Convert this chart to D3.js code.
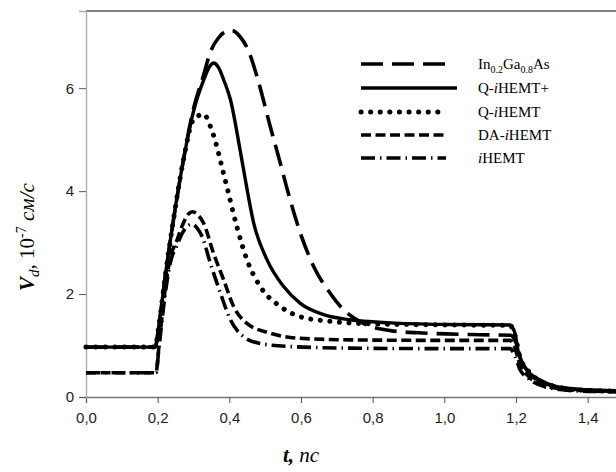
<!DOCTYPE html>
<html><head><meta charset="utf-8">
<script src="https://cdn.jsdelivr.net/npm/d3@7"></script>
<style>body{margin:0;background:#fff}svg{display:block}</style>
</head><body>
<script>
// ---- data ----
const seriesNames = ["In0.2Ga0.8As", "Q-iHEMT+", "Q-iHEMT", "DA-iHEMT", "iHEMT"];
const tInGaAs = [0,0.193,0.203,0.221,0.244,0.272,0.300,0.328,0.347,0.37,0.39,0.407,0.43,0.455,0.477,0.514,0.54,0.565,0.589,0.635,0.681,0.714,0.774,0.85,0.95,1.1,1.185,1.2,1.215,1.24,1.28,1.33,1.4,1.5];
const vInGaAs = [0.97,0.97,1.37,2.34,3.44,4.61,5.6,6.25,6.7,6.98,7.1,7.12,7.0,6.7,6.23,5.26,4.6,3.95,3.38,2.54,2.02,1.73,1.43,1.29,1.24,1.21,1.2,1.05,0.7,0.45,0.27,0.18,0.13,0.11];
const tQplus = [0,0.193,0.203,0.221,0.244,0.272,0.300,0.328,0.345,0.356,0.37,0.385,0.403,0.43,0.444,0.468,0.505,0.551,0.598,0.663,0.737,0.85,1.0,1.183,1.197,1.207,1.23,1.267,1.314,1.397,1.5];
const vQplus = [0.97,0.97,1.37,2.34,3.44,4.61,5.55,6.15,6.42,6.49,6.4,6.15,5.78,4.8,4.25,3.38,2.67,2.15,1.82,1.6,1.5,1.44,1.41,1.4,1.24,0.85,0.53,0.33,0.2,0.14,0.12];
const tQ = [0,0.193,0.203,0.221,0.244,0.272,0.300,0.315,0.328,0.347,0.365,0.379,0.393,0.421,0.449,0.486,0.542,0.598,0.681,0.8,1.0,1.183,1.197,1.21,1.235,1.27,1.32,1.4,1.5];
const vQ = [0.97,0.97,1.37,2.34,3.44,4.61,5.4,5.47,5.5,5.26,4.87,4.48,4.09,3.31,2.67,2.15,1.76,1.56,1.47,1.42,1.4,1.39,1.2,0.8,0.5,0.3,0.19,0.13,0.11];
const tDA = [0,0.195,0.205,0.221,0.235,0.254,0.27,0.285,0.298,0.31,0.328,0.356,0.384,0.412,0.449,0.514,0.598,0.737,1.0,1.183,1.197,1.21,1.235,1.27,1.32,1.4,1.5];
const vDA = [0.47,0.47,1.1,2.1,2.7,3.05,3.35,3.55,3.6,3.55,3.38,2.79,2.28,1.76,1.43,1.24,1.14,1.11,1.1,1.1,0.95,0.65,0.4,0.25,0.16,0.12,0.1];
const tI = [0,0.195,0.205,0.221,0.235,0.254,0.27,0.285,0.296,0.31,0.324,0.347,0.375,0.403,0.44,0.486,0.57,0.737,1.0,1.183,1.197,1.21,1.24,1.28,1.33,1.4,1.5];
const vI = [0.47,0.47,1.05,2.0,2.6,2.95,3.2,3.33,3.36,3.28,3.12,2.6,2.02,1.5,1.17,1.04,0.98,0.95,0.94,0.94,0.8,0.55,0.33,0.2,0.14,0.11,0.1];
const xTicks = [0,0.2,0.4,0.6,0.8,1.0,1.2,1.4];
const yTicks = [0,2,4,6];

const W = 616, H = 472;
const svg = d3.select("body").append("svg").attr("width", W).attr("height", H);
const x = d3.scaleLinear().domain([0, 1.5]).range([86, 623.5]);
const y = d3.scaleLinear().domain([0, 7.5]).range([397, 11]);

const styles = [
  {dash:"22,9", cap:"butt", w:3.6},
  {dash:null, cap:"butt", w:3.4},
  {dash:"0.1,9.5", cap:"round", w:5},
  {dash:"10,4.5", cap:"butt", w:3.6},
  {dash:"14,5,1.5,5", cap:"butt", w:3.6}
];
const series = [
  {t:tInGaAs, v:vInGaAs}, {t:tQplus, v:vQplus}, {t:tQ, v:vQ}, {t:tDA, v:vDA}, {t:tI, v:vI}
];

// axes
const fontTick = "Arial, 'Liberation Sans', sans-serif";
svg.append("line").attr("x1",86).attr("x2",W).attr("y1",11).attr("y2",11).attr("stroke","#555").attr("stroke-width",1.6);
const xAxis = svg.append("g").attr("transform","translate(0,397)")
  .call(d3.axisBottom(x).tickValues(xTicks).tickSize(6).tickPadding(9).tickFormat(d => d3.format(".1f")(d).replace(".", ",")));
xAxis.select(".domain").attr("stroke","#777").attr("stroke-width",1.3);
xAxis.selectAll(".tick line").attr("stroke","#555");
xAxis.selectAll("text").attr("font-family",fontTick).attr("font-size",15).attr("fill","#222");
const yAxis = svg.append("g").attr("transform","translate(86,0)")
  .call(d3.axisLeft(y).tickValues(yTicks).tickSize(7).tickPadding(5).tickFormat(d3.format("d")));
yAxis.select(".domain").attr("stroke","#aaa").attr("stroke-width",1.4);
yAxis.selectAll(".tick line").attr("stroke","#555");
yAxis.selectAll("text").attr("font-family",fontTick).attr("font-size",15).attr("fill","#222");

// lines
const line = d3.line().x(d => x(d[0])).y(d => y(d[1])).curve(d3.curveMonotoneX);
series.forEach((s, i) => {
  const pts = s.t.map((t, j) => [t, s.v[j]]);
  const p = svg.append("path").datum(pts).attr("d", line)
    .attr("fill","none").attr("stroke","#000").attr("stroke-width",styles[i].w)
    .attr("stroke-linecap",styles[i].cap).attr("stroke-linejoin","round");
  if (styles[i].dash) p.attr("stroke-dasharray", styles[i].dash);
});

// legend
const serif = "'Liberation Serif', 'Times New Roman', serif";
const legY = [64, 88, 112, 135, 158];
const legEnd = [446, 457, 446, 446, 446];
seriesNames.forEach((name, i) => {
  const l = svg.append("line").attr("x1",361).attr("x2",legEnd[i]).attr("y1",legY[i]).attr("y2",legY[i])
    .attr("stroke","#000").attr("stroke-width",styles[i].w).attr("stroke-linecap",styles[i].cap);
  if (styles[i].dash) l.attr("stroke-dasharray", styles[i].dash);
  const tx = svg.append("text").attr("x",478).attr("y",legY[i]+5).attr("font-family",serif).attr("font-size",15).attr("fill","#000");
  if (i === 0) {
    tx.append("tspan").text("In");
    tx.append("tspan").attr("font-size",10).attr("dy",4).text("0.2");
    tx.append("tspan").attr("dy",-4).text("Ga");
    tx.append("tspan").attr("font-size",10).attr("dy",4).text("0.8");
    tx.append("tspan").attr("dy",-4).text("As");
  } else {
    const m = name.match(/^(.*?)(i)(HEMT.*)$/);
    tx.append("tspan").text(m[1]);
    tx.append("tspan").attr("font-style","italic").text("i");
    tx.append("tspan").text(m[3]);
  }
});

// axis titles
const yl = svg.append("text").attr("transform","translate(34,237) rotate(-90)").attr("text-anchor","middle")
  .attr("font-family",serif).attr("font-size",21).attr("fill","#000");
yl.append("tspan").attr("font-weight","bold").attr("font-style","italic").text("V");
yl.append("tspan").attr("font-style","italic").attr("font-size",15).attr("dy",5).text("d");
yl.append("tspan").attr("dy",-5).text(", 10");
yl.append("tspan").attr("font-size",14).attr("dy",-8).text("-7");
yl.append("tspan").attr("dy",8).attr("font-style","italic").text(" см/с");

const xl = svg.append("text").attr("x",301).attr("y",462).attr("text-anchor","middle")
  .attr("font-family",serif).attr("font-size",21).attr("fill","#000");
xl.append("tspan").attr("font-weight","bold").attr("font-style","italic").text("t,");
xl.append("tspan").attr("font-style","italic").text(" пс");
</script>
</body></html>
